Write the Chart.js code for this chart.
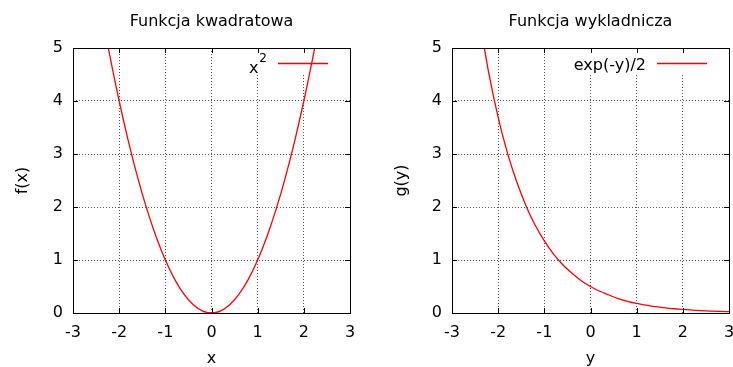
<!DOCTYPE html>
<html>
<head>
<meta charset="utf-8">
<script src="https://cdn.jsdelivr.net/npm/chart.js@4"></script>
<style>
  html, body { margin: 0; padding: 0; background: #fff; overflow: hidden; width: 733px; height: 367px; }
  .plot { position: absolute; top: 0; height: 367px; }
  #plot1 { left: 0; width: 370px; }
  #plot2 { left: 379px; width: 354px; }
</style>
</head>
<body>
<div class="plot" id="plot1"><canvas id="chart1"></canvas></div>
<div class="plot" id="plot2"><canvas id="chart2"></canvas></div>
<script>
"use strict";

//////// data
const xTicks = [-3, -2, -1, 0, 1, 2, 3];
const yTicks = [0, 1, 2, 3, 4, 5];

// left plot: x^2
const xValues = [-2.4, -2.2, -2.0, -1.8, -1.6, -1.4, -1.2, -1.0, -0.8, -0.6, -0.4, -0.2, 0,
  0.2, 0.4, 0.6, 0.8, 1.0, 1.2, 1.4, 1.6, 1.8, 2.0, 2.2, 2.4];
const fxValues = [5.76, 4.84, 4.0, 3.24, 2.56, 1.96, 1.44, 1.0, 0.64, 0.36, 0.16, 0.04, 0,
  0.04, 0.16, 0.36, 0.64, 1.0, 1.44, 1.96, 2.56, 3.24, 4.0, 4.84, 5.76];

// right plot: exp(-y)/2
const yValues = [-2.4, -2.2, -2.0, -1.8, -1.6, -1.4, -1.2, -1.0, -0.8, -0.6, -0.4, -0.2, 0,
  0.2, 0.4, 0.6, 0.8, 1.0, 1.2, 1.4, 1.6, 1.8, 2.0, 2.2, 2.4, 2.6, 2.8, 3.0];
const gyValues = [5.51, 4.51, 3.69, 3.02, 2.48, 2.03, 1.66, 1.36, 1.11, 0.91, 0.75, 0.61, 0.5,
  0.41, 0.34, 0.27, 0.22, 0.18, 0.15, 0.12, 0.1, 0.08, 0.068, 0.055, 0.045, 0.037, 0.03, 0.025];

const FONT = "'DejaVu Sans', sans-serif";
const RED = "#ff0000";

//////// frame, inward ticks and key (gnuplot look)
const framePlugin = {
  id: "frame",
  beforeDatasetsDraw(chart, args, opts) {
    const ctx = chart.ctx;
    const a = chart.chartArea;
    ctx.save();
    ctx.font = "12px " + FONT;
    const supW = opts.sup ? ctx.measureText(opts.sup).width + 1 : 0;
    ctx.font = "16px " + FONT;
    const mainW = ctx.measureText(opts.label).width;
    const textRight = a.right - 83;
    const textLeft = textRight - supW - mainW;
    // key background hides the grid
    ctx.fillStyle = "#fff";
    ctx.fillRect(textLeft - 6, a.top + 1, a.right - textLeft + 5, 24);
    ctx.fillStyle = "#000";
    ctx.textAlign = "left";
    ctx.textBaseline = "alphabetic";
    ctx.fillText(opts.label, textLeft, a.top + opts.base);
    if (opts.sup) {
      ctx.font = "12px " + FONT;
      ctx.fillText(opts.sup, textLeft + mainW + 1, a.top + 14);
    }
    ctx.strokeStyle = RED;
    ctx.lineWidth = 1.3;
    ctx.beginPath();
    ctx.moveTo(a.right - 72, a.top + 15.5);
    ctx.lineTo(a.right - 22, a.top + 15.5);
    ctx.stroke();
    ctx.restore();
  },
  afterDatasetsDraw(chart) {
    const ctx = chart.ctx;
    const a = chart.chartArea;
    const sx = chart.scales.x;
    const sy = chart.scales.y;
    ctx.save();
    ctx.strokeStyle = "#000";
    ctx.lineWidth = 1;
    ctx.beginPath();
    xTicks.forEach((v) => {
      const px = Math.round(sx.getPixelForValue(v)) + 0.5;
      ctx.moveTo(px, a.bottom);
      ctx.lineTo(px, a.bottom - 5);
      ctx.moveTo(px, a.top);
      ctx.lineTo(px, a.top + 5);
    });
    yTicks.forEach((v) => {
      const py = Math.round(sy.getPixelForValue(v)) + 0.5;
      ctx.moveTo(a.left, py);
      ctx.lineTo(a.left + 5, py);
      ctx.moveTo(a.right, py);
      ctx.lineTo(a.right - 5, py);
    });
    ctx.stroke();
    ctx.strokeRect(Math.round(a.left) + 0.5, Math.round(a.top) + 0.5,
      Math.round(a.right - a.left), Math.round(a.bottom - a.top));
    ctx.restore();
  },
};

const makeChart = function (canvasId, xs, vals, title, xTitle, yTitle, key, padRight) {
  return new Chart(document.getElementById(canvasId), {
    type: "scatter",
    data: {
      datasets: [
        {
          label: key.label + key.sup,
          data: xs.map((x, i) => ({ x: x, y: vals[i] })),
          showLine: true,
          borderColor: RED,
          borderWidth: 1.3,
          pointRadius: 0,
          cubicInterpolationMode: "monotone",
          fill: false,
        },
      ],
    },
    options: {
      responsive: true,
      maintainAspectRatio: false,
      animation: false,
      layout: { padding: { left: 0, right: padRight, top: 0, bottom: 0 } },
      plugins: {
        legend: { display: false },
        tooltip: { enabled: false },
        title: {
          display: true,
          text: title,
          fullSize: false,
          color: "#000",
          font: { family: FONT, size: 16, weight: "normal", lineHeight: 1.2 },
          padding: { top: 12, bottom: 16.8 },
        },
        frame: key,
      },
      scales: {
        x: {
          type: "linear",
          min: xTicks[0],
          max: xTicks[xTicks.length - 1],
          afterBuildTicks: (s) => {
            s.ticks = xTicks.map((v) => ({ value: v }));
          },
          afterFit: (s) => {
            s.height = 54;
            s.paddingLeft = 0;
            s.paddingRight = 0;
          },
          grid: { color: "#555", lineWidth: 1, drawTicks: false, tickLength: 0 },
          border: { display: false, dash: [1, 2] },
          ticks: { color: "#000", font: { family: FONT, size: 16 }, padding: 10, maxRotation: 0 },
          title: {
            display: true,
            text: xTitle,
            color: "#000",
            font: { family: FONT, size: 16, lineHeight: 1 },
            padding: { top: 0, bottom: 0 },
          },
        },
        y: {
          type: "linear",
          min: yTicks[0],
          max: yTicks[yTicks.length - 1],
          afterBuildTicks: (s) => {
            s.ticks = yTicks.map((v) => ({ value: v }));
          },
          afterFit: (s) => {
            s.width = 73;
            s.paddingTop = 0;
            s.paddingBottom = 0;
          },
          grid: { color: "#555", lineWidth: 1, drawTicks: false, tickLength: 0 },
          border: { display: false, dash: [1, 2] },
          ticks: { color: "#000", font: { family: FONT, size: 16 }, padding: 10 },
          title: {
            display: true,
            text: yTitle,
            color: "#000",
            font: { family: FONT, size: 16 },
            padding: { top: 13, bottom: 0 },
          },
        },
      },
    },
    plugins: [framePlugin],
  });
};

makeChart("chart1", xValues, fxValues, "Funkcja kwadratowa", "x", "f(x)",
  { label: "x", sup: "2", base: 25 }, 20);
makeChart("chart2", yValues, gyValues, "Funkcja wykladnicza", "y", "g(y)",
  { label: "exp(-y)/2", sup: "", base: 22 }, 4);
</script>
</body>
</html>
